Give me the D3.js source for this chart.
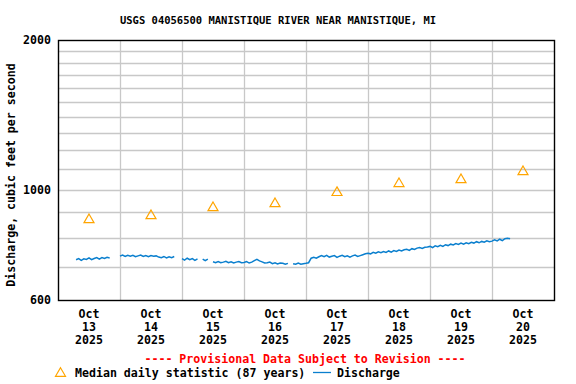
<!DOCTYPE html>
<html>
<head>
<meta charset="utf-8">
<script src="https://cdn.jsdelivr.net/npm/d3@7"></script>
<style>
  body { margin: 0; background: #fff; }
  svg text { font-family: "DejaVu Sans Mono", monospace; font-weight: bold; }
</style>
</head>
<body>
<svg id="chart" width="576" height="384"></svg>
<script>
// median daily statistic, one per day Oct 13..20
var medianDays = ['2025-10-13', '2025-10-14', '2025-10-15', '2025-10-16', '2025-10-17', '2025-10-18', '2025-10-19', '2025-10-20'];
var medianValues = [876, 892, 926, 943, 993, 1035, 1054, 1094];

// discharge, hourly readings per day (null = missing)
var flowOct13 = [null, null, null, null, null, null, null, 723, 727, 721, 726, 724, 729, 723, 727, 730, 725, 730, 727, 731, 729, null, null, null];
var flowOct14 = [735, 739, 734, 738, 735, 738, 733, 736, 739, 734, 737, 733, 737, 735, 736, 732, 730, 734, 729, 733, 730, 734, null, null];
var flowOct15 = [727, 722, 728, 723, 727, 721, 726, null, 725, 720, 725, null, 716, 713, 717, 713, 715, 718, 713, 716, 712, 715, 717, 713];
var flowOct16 = [714, 717, 712, 715, 720, 724, 719, 716, 712, 713, 715, 710, 713, 709, 712, 711, 708, 711, null, 710, 708, 712, 708, 710];
var flowOct17 = [711, 713, 728, 731, 728, 733, 737, 733, 738, 732, 735, 737, 731, 735, 738, 733, 736, 732, 736, 739, 734, 737, 740, 743];
var flowOct18 = [745, 743, 748, 745, 750, 747, 751, 748, 753, 749, 754, 751, 756, 753, 757, 759, 755, 761, 758, 763, 765, 762, 766, 767];
var flowOct19 = [769, 765, 771, 768, 773, 769, 775, 772, 777, 774, 779, 776, 781, 777, 782, 779, 784, 781, 786, 782, 787, 784, 789, 786];
var flowOct20 = [788, 793, 789, 795, 790, 797, 799, 797];

var yTickLabels = [600, 1000, 2000];
var yGridValues = [700, 800, 900, 1000, 1100, 1200, 1300, 1400, 1500, 1600, 1700, 1800, 1900];

var svg = d3.select('#chart');
var margin_left = 58, margin_right = 22, margin_top = 40, margin_bottom = 84;
var width = 576, height = 384;

var parseDay = d3.utcParse('%Y-%m-%d');
var x = d3.scaleUtc()
    .domain([parseDay('2025-10-13'), parseDay('2025-10-21')])
    .range([margin_left, width - margin_right]);
var y = d3.scaleLog()
    .domain([600, 2000])
    .range([height - margin_bottom, margin_top]);

// flatten the hourly arrays into {date, v}
var flowDays = [flowOct13, flowOct14, flowOct15, flowOct16, flowOct17, flowOct18, flowOct19, flowOct20];
var flow = [];
flowDays.forEach(function(arr, i) {
    var day0 = d3.utcDay.offset(parseDay('2025-10-13'), i);
    arr.forEach(function(v, h) {
        flow.push({date: d3.utcHour.offset(day0, h), v: v});
    });
});

// grid
var days = d3.utcDay.range(d3.utcDay.offset(x.domain()[0], 1), x.domain()[1]);
svg.append('g').selectAll('line.v').data(days).enter().append('line')
    .attr('x1', function(d) { return Math.round(x(d)) + 0.5; })
    .attr('x2', function(d) { return Math.round(x(d)) + 0.5; })
    .attr('y1', y.range()[1]).attr('y2', y.range()[0])
    .attr('stroke', '#c8c8c8').attr('stroke-width', 1.3);
svg.append('g').selectAll('line.h').data(yGridValues).enter().append('line')
    .attr('x1', x.range()[0]).attr('x2', x.range()[1])
    .attr('y1', function(d) { return Math.round(y(d)) + 0.5; })
    .attr('y2', function(d) { return Math.round(y(d)) + 0.5; })
    .attr('stroke', '#c8c8c8').attr('stroke-width', 1.3);

// frame
svg.append('rect')
    .attr('x', x.range()[0] + 0.5).attr('y', y.range()[1] + 0.5)
    .attr('width', x.range()[1] - x.range()[0]).attr('height', y.range()[0] - y.range()[1])
    .attr('fill', 'none').attr('stroke', '#000').attr('stroke-width', 1.4);

// discharge line
var line_func = d3.line()
    .defined(function(d) { return d.v != null; })
    .x(function(d) { return x(d.date); })
    .y(function(d) { return y(d.v); });
svg.append('path')
    .attr('d', line_func(flow))
    .attr('fill', 'none').attr('stroke', '#0a7fce').attr('stroke-width', 1.5);

// median triangles, bbox centred on the value
var tri = function(cx, cy) {
    return 'M' + cx + ',' + (cy - 4.3) + 'L' + (cx + 5) + ',' + (cy + 4.3) + 'L' + (cx - 5) + ',' + (cy + 4.3) + 'Z';
};
svg.append('g').selectAll('path').data(medianDays).enter().append('path')
    .attr('d', function(d, i) {
        return tri(x(d3.utcHour.offset(parseDay(d), 12)), y(medianValues[i]));
    })
    .attr('fill', 'none').attr('stroke', '#ffa500').attr('stroke-width', 1.2);

// y tick labels
svg.append('g').selectAll('text').data(yTickLabels).enter().append('text')
    .attr('x', 51).attr('y', function(d) { return y(d) + 4; })
    .attr('text-anchor', 'end').attr('font-size', '11.6px')
    .text(function(d) { return d; });

// x tick labels, at noon of each day
var xLabels = svg.append('g').selectAll('text').data(medianDays).enter().append('text')
    .attr('text-anchor', 'middle').attr('font-size', '11.6px')
    .attr('transform', function(d) { return 'translate(' + x(d3.utcHour.offset(parseDay(d), 12)) + ',318)'; });
xLabels.append('tspan').attr('x', 0).attr('y', 0).text('Oct');
xLabels.append('tspan').attr('x', 0).attr('y', 13).text(function(d) { return +d.slice(8); });
xLabels.append('tspan').attr('x', 0).attr('y', 26).text(function(d) { return d.slice(0, 4); });

// title and axis label
svg.append('text').attr('x', 278).attr('y', 24).attr('text-anchor', 'middle')
    .attr('font-size', '10.5px').text('USGS 04056500 MANISTIQUE RIVER NEAR MANISTIQUE, MI');
svg.append('text').attr('transform', 'translate(15,175) rotate(-90)').attr('text-anchor', 'middle')
    .attr('font-size', '11.6px').text('Discharge, cubic feet per second');

svg.append('text').attr('x', 305).attr('y', 363).attr('text-anchor', 'middle')
    .attr('font-size', '11.6px').attr('fill', '#ff0000')
    .text('---- Provisional Data Subject to Revision ----');

// legend
svg.append('path').attr('d', tri(60.5, 372)).attr('fill', 'none').attr('stroke', '#ffa500').attr('stroke-width', 1.2);
svg.append('text').attr('x', 75).attr('y', 377).attr('font-size', '11.6px').text('Median daily statistic (87 years)');
svg.append('line').attr('x1', 313).attr('x2', 331).attr('y1', 372.5).attr('y2', 372.5)
    .attr('stroke', '#0a7fce').attr('stroke-width', 1.3);
svg.append('text').attr('x', 337).attr('y', 377).attr('font-size', '11.6px').text('Discharge');
</script>
</body>
</html>
